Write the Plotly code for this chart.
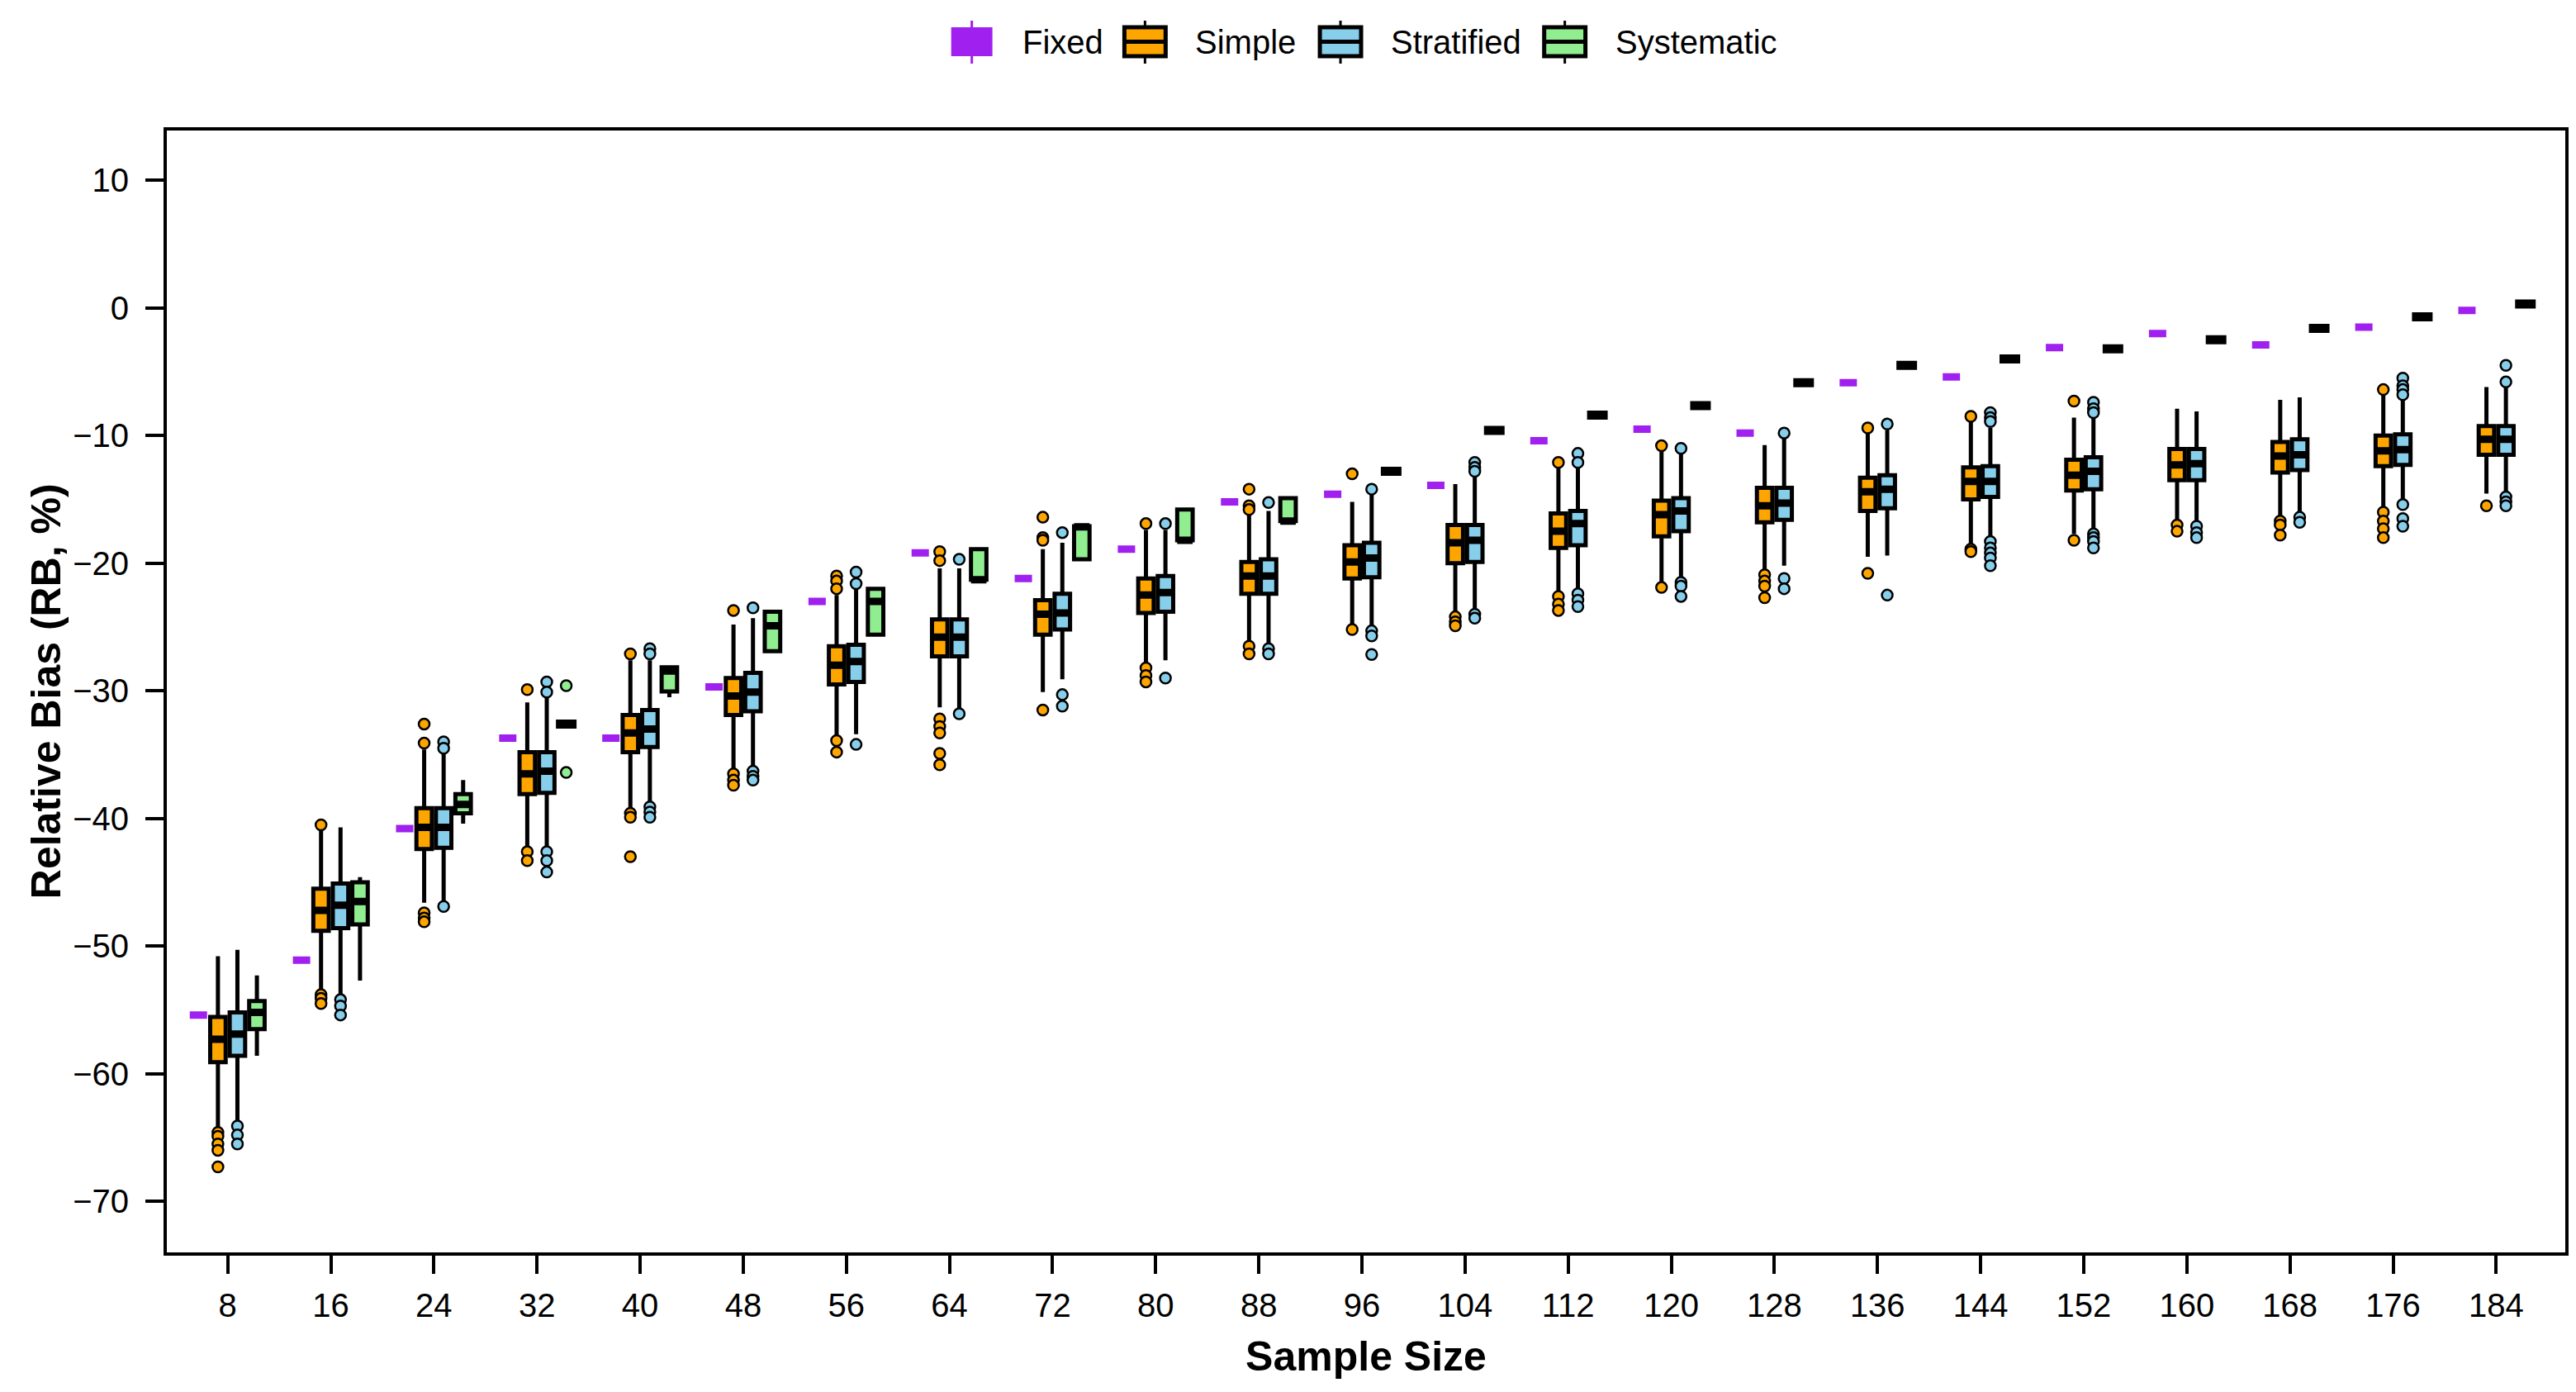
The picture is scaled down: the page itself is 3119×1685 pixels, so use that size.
"""Relative bias (RB, %) by sample size for four sampling designs.

Boxes are drawn from precomputed quartiles / whisker ends read off the
published figure; outlying points go on top as plain markers.
"""

import plotly.graph_objects as go

sample_sizes = [8, 16, 24, 32, 40, 48, 56, 64, 72, 80, 88, 96,
                104, 112, 120, 128, 136, 144, 152, 160, 168, 176, 184]
size_labels = [str(s) for s in sample_sizes]

# Fixed design: one value per sample size
fixed_rb = [-55.4, -51.1, -40.8, -33.7, -33.7, -29.7, -23.0, -19.2, -21.2,
            -18.9, -15.2, -14.6, -13.9, -10.4, -9.5, -9.8, -5.85, -5.4,
            -3.1, -2.0, -2.9, -1.5, -0.2]

# Simple random sampling
simple_lower = [-64.3, -53.6, -46.6, -42.4, -39.2, -36.1, -33.7, -31.3, -30.1,
                -27.8, -26.3, -24.85, -23.9, -22.4, -21.6, -20.5, -19.5,
                -18.6, -17.7, -16.8, -16.4, -15.7, -14.55]
simple_q1 = [-59.1, -48.8, -42.4, -38.1, -34.8, -31.9, -29.5, -27.3, -25.6,
             -23.9, -22.4, -21.2, -20.0, -18.8, -17.9, -16.8, -15.9, -15.0,
             -14.3, -13.5, -12.9, -12.4, -11.5]
simple_median = [-57.3, -47.2, -40.7, -36.5, -33.3, -30.4, -28.0, -25.8, -24.0,
                 -22.5, -21.0, -19.9, -18.4, -17.5, -16.2, -15.5, -14.4,
                 -13.6, -13.1, -12.3, -11.6, -11.2, -10.3]
simple_q3 = [-55.55, -45.5, -39.2, -34.8, -31.9, -29.0, -26.5, -24.4, -22.9,
             -21.2, -19.9, -18.6, -17.0, -16.1, -15.1, -14.1, -13.3, -12.5,
             -11.9, -11.05, -10.5, -10.0, -9.25]
simple_upper = [-50.8, -40.9, -34.6, -30.9, -27.6, -24.8, -22.5, -20.4, -18.9,
                -17.4, -16.1, -15.2, -13.8, -12.4, -11.2, -10.75, -9.8, -8.9,
                -8.6, -7.9, -7.2, -6.8, -6.2]
simple_outliers = [
    [-64.6, -64.9, -65.5, -66.0, -67.3],
    [-40.5, -53.8, -54.1, -54.5],
    [-32.6, -34.1, -47.4, -47.8, -48.1],
    [-29.9, -42.6, -43.3],
    [-27.1, -39.6, -39.9, -43.0],
    [-23.7, -36.5, -37.0, -37.4],
    [-21.0, -21.4, -22.0, -33.9, -34.8],
    [-19.1, -19.8, -32.2, -32.8, -33.3, -34.9, -35.8],
    [-16.4, -18.0, -18.2, -31.5],
    [-16.9, -28.2, -28.8, -29.3],
    [-14.2, -15.5, -15.8, -26.5, -27.1],
    [-13.0, -25.2],
    [-24.2, -24.6, -24.9],
    [-12.1, -22.6, -23.2, -23.7],
    [-10.8, -21.9],
    [-20.9, -21.4, -21.8, -22.7],
    [-9.4, -20.8],
    [-8.5, -18.9, -19.1],
    [-7.3, -18.2],
    [-17.0, -17.5],
    [-16.7, -17.0, -17.8],
    [-6.4, -16.0, -16.7, -17.3, -18.0],
    [-15.5],
]

# Stratified sampling
strat_lower = [-63.7, -53.9, -46.6, -42.4, -38.7, -36.1, -33.4, -31.5, -29.1,
               -27.6, -26.5, -24.85, -23.8, -22.2, -21.1, -20.2, -19.4, -18.1,
               -17.5, -16.8, -16.1, -15.1, -14.55]
strat_q1 = [-58.6, -48.6, -42.3, -38.0, -34.4, -31.6, -29.3, -27.3, -25.2,
            -23.8, -22.4, -21.1, -19.9, -18.6, -17.5, -16.6, -15.7, -14.8,
            -14.2, -13.5, -12.7, -12.3, -11.5]
strat_median = [-56.9, -46.8, -40.7, -36.3, -33.0, -30.1, -27.7, -25.8, -23.9,
                -22.3, -21.0, -19.6, -18.2, -16.9, -15.9, -15.3, -14.2, -13.6,
                -12.8, -12.2, -11.5, -11.1, -10.3]
strat_q3 = [-55.2, -45.1, -39.2, -34.8, -31.5, -28.6, -26.4, -24.4, -22.4,
            -21.0, -19.7, -18.4, -17.0, -15.9, -14.9, -14.1, -13.1, -12.4,
            -11.7, -11.05, -10.3, -9.9, -9.25]
strat_upper = [-50.3, -40.7, -34.8, -30.5, -27.6, -24.3, -22.0, -20.4, -18.4,
               -17.4, -15.9, -14.6, -13.0, -12.4, -11.3, -10.2, -9.6, -9.4,
               -8.5, -8.1, -7.0, -7.1, -6.1]
strat_outliers = [
    [-64.1, -64.8, -65.5],
    [-54.2, -54.7, -55.4],
    [-34.0, -34.5, -46.9],
    [-29.3, -30.1, -42.6, -43.3, -44.2],
    [-26.7, -27.1, -39.1, -39.5, -39.9],
    [-23.5, -36.3, -36.7, -37.0],
    [-20.7, -21.6, -34.2],
    [-19.7, -31.8],
    [-17.6, -30.3, -31.2],
    [-16.9, -29.0],
    [-15.25, -26.7, -27.1],
    [-14.2, -25.3, -25.7, -27.15],
    [-12.1, -12.5, -12.8, -24.0, -24.3],
    [-11.4, -12.1, -22.4, -22.9, -23.4],
    [-11.0, -21.5, -21.8, -22.6],
    [-9.8, -21.2, -22.0],
    [-9.1, -22.5],
    [-8.2, -8.6, -8.9, -18.3, -18.8, -19.2, -19.6, -20.2],
    [-7.4, -7.9, -8.2, -17.7, -18.0, -18.3, -18.8],
    [-17.1, -17.6, -18.0],
    [-16.4, -16.8],
    [-5.5, -6.1, -6.4, -6.8, -15.4, -16.5, -17.1],
    [-4.5, -5.8, -14.8, -15.2, -15.5],
]

# Systematic sampling (collapses to a single value from n = 96 on)
sys_lower = [-58.6, -52.7, -40.4, -32.6, -30.5, -26.9, -25.6, -21.3, -19.7,
             -18.2, -16.7, -12.8, -9.6, -8.4, -7.65, -5.85, -4.5, -4.0,
             -3.2, -2.5, -1.6, -0.7, 0.3]
sys_q1 = [-56.5, -48.3, -39.6, -32.6, -30.05, -26.9, -25.6, -21.3, -19.7,
          -18.2, -16.7, -12.8, -9.6, -8.4, -7.65, -5.85, -4.5, -4.0,
          -3.2, -2.5, -1.6, -0.7, 0.3]
sys_median = [-55.2, -46.5, -38.9, -32.6, -28.45, -24.9, -23.0, -21.3, -17.15,
              -18.2, -16.7, -12.8, -9.6, -8.4, -7.65, -5.85, -4.5, -4.0,
              -3.2, -2.5, -1.6, -0.7, 0.3]
sys_q3 = [-54.3, -45.0, -38.1, -32.6, -28.15, -23.8, -22.0, -18.9, -17.1,
          -15.8, -14.9, -12.8, -9.6, -8.4, -7.65, -5.85, -4.5, -4.0,
          -3.2, -2.5, -1.6, -0.7, 0.3]
sys_upper = [-52.3, -44.6, -37.0, -32.6, -28.15, -23.8, -22.0, -18.9, -17.1,
             -15.8, -14.9, -12.8, -9.6, -8.4, -7.65, -5.85, -4.5, -4.0,
             -3.2, -2.5, -1.6, -0.7, 0.3]
sys_outliers = [[] for _ in sample_sizes]
sys_outliers[3] = [-29.6, -36.4]

FONT = "Liberation Sans, Arial, sans-serif"
DESIGNS = ["Fixed", "Simple", "Stratified", "Systematic"]
COLORS = {
    "Fixed": "#A020F0",
    "Simple": "#FFA500",
    "Stratified": "#87CEEB",
    "Systematic": "#90EE90",
}

# figure geometry (px). The page body keeps its default 8px margin, so the
# figure is shrunk by that much to land the plot frame where the original is.
BODY = 8
W, H = 3119 - BODY, 1685 - BODY
M_L, M_R, M_T, M_B = 194, 9, 150, 169
PLOT_W, PLOT_H = W - M_L - M_R, H - M_T - M_B
PLOT_LEFT, PLOT_BOTTOM = BODY + M_L, BODY + H - M_B   # page px

SLOT = 0.189       # horizontal slot per design inside one sample size
BOX_W = 0.15
FIXED_W = 0.168
DASH_W = 0.2       # systematic boxes that collapse to one value
LINE_W = 5
MEDIAN_W = 9

cat_pos = list(range(len(sample_sizes)))


def _slot_x(k):
    off = (k - 1.5) * SLOT
    return [p + off for p in cat_pos]


def _box(name, x, lower, q1, med, q3, upper, line_color="black",
         line_width=LINE_W, width=BOX_W):
    return go.Box(
        name=name,
        x=x,
        lowerfence=lower, q1=q1, median=med, q3=q3, upperfence=upper,
        boxpoints=False,
        whiskerwidth=0,
        width=width,
        fillcolor=COLORS[name],
        line=dict(color=line_color, width=line_width),
        showlegend=False,
        hoverinfo="skip",
    )


def _outliers(name, k, pts):
    xs, ys = [], []
    for x, vals in zip(_slot_x(k), pts):
        for v in vals:
            xs.append(x)
            ys.append(v)
    return go.Scatter(
        x=xs, y=ys, mode="markers", name=name, showlegend=False,
        marker=dict(symbol="circle", size=13, color=COLORS[name],
                    line=dict(color="black", width=2.5)),
        hoverinfo="skip",
    )


traces = [
    _box("Fixed", _slot_x(0), fixed_rb, fixed_rb, fixed_rb, fixed_rb, fixed_rb,
         line_color=COLORS["Fixed"], line_width=MEDIAN_W, width=FIXED_W),
    _box("Simple", _slot_x(1), simple_lower, simple_q1, simple_median,
         simple_q3, simple_upper),
    _box("Stratified", _slot_x(2), strat_lower, strat_q1, strat_median,
         strat_q3, strat_upper),
    _box("Systematic", _slot_x(3), sys_lower, sys_q1, sys_median, sys_q3,
         sys_upper),
]
# thick median bars drawn on top, as in the R boxplot
for name, k, med in (("Simple", 1, simple_median),
                     ("Stratified", 2, strat_median)):
    traces.append(_box(name, _slot_x(k), med, med, med, med, med,
                       line_width=MEDIAN_W))
sys_x = _slot_x(3)
spread = [i for i in cat_pos if sys_q3[i] > sys_q1[i]]
flat = [i for i in cat_pos if sys_q3[i] <= sys_q1[i]]
for idx, width, lw in ((spread, BOX_W, MEDIAN_W), (flat, DASH_W, 11)):
    med = [sys_median[i] for i in idx]
    traces.append(_box("Systematic", [sys_x[i] for i in idx],
                       med, med, med, med, med, line_width=lw, width=width))
traces += [
    _outliers("Simple", 1, simple_outliers),
    _outliers("Stratified", 2, strat_outliers),
    _outliers("Systematic", 3, sys_outliers),
]

fig = go.Figure(data=traces)


# ---- legend drawn by hand so the keys match the big R boxplot keys ----
def px_x(px):
    return (px - PLOT_LEFT) / PLOT_W


def px_y(py):
    return (PLOT_BOTTOM - py) / PLOT_H


LEG_ICON_LEFT = [1153, 1363, 1600, 1872]
LEG_ICON_W = 50
LEG_BOX_TOP, LEG_BOX_BOT = 33, 68
LEG_WHISK_TOP, LEG_WHISK_BOT = 25, 77
LEG_MID = 50.5
LEG_TEXT_GAP = 84

shapes = []
annotations = []
for name, left in zip(DESIGNS, LEG_ICON_LEFT):
    fixed = name == "Fixed"
    edge = COLORS[name] if fixed else "black"
    cx = left + LEG_ICON_W / 2
    for y0, y1 in ((LEG_WHISK_TOP, LEG_BOX_TOP), (LEG_BOX_BOT, LEG_WHISK_BOT)):
        shapes.append(dict(type="line", xref="paper", yref="paper",
                           x0=px_x(cx), x1=px_x(cx), y0=px_y(y0), y1=px_y(y1),
                           line=dict(color=edge, width=3)))
    shapes.append(dict(type="rect", xref="paper", yref="paper",
                       x0=px_x(left), x1=px_x(left + LEG_ICON_W),
                       y0=px_y(LEG_BOX_BOT), y1=px_y(LEG_BOX_TOP),
                       fillcolor=COLORS[name],
                       line=dict(color=edge, width=0 if fixed else 5)))
    if not fixed:
        shapes.append(dict(type="line", xref="paper", yref="paper",
                           x0=px_x(left), x1=px_x(left + LEG_ICON_W),
                           y0=px_y(LEG_MID), y1=px_y(LEG_MID),
                           line=dict(color="black", width=5)))
    annotations.append(dict(text=name, xref="paper", yref="paper",
                            x=px_x(left + LEG_TEXT_GAP), y=px_y(LEG_MID),
                            xanchor="left", yanchor="middle", showarrow=False,
                            font=dict(family=FONT, size=40, color="black")))

# y-axis title sits closer to the tick labels than plotly's standoff allows
annotations.append(dict(text="<b>Relative Bias (RB, %)</b>", xref="paper",
                        yref="paper", x=px_x(56), y=0.5, textangle=-90,
                        xanchor="center", yanchor="middle", showarrow=False,
                        font=dict(family=FONT, size=50, color="black")))

fig.update_layout(
    width=W, height=H,
    paper_bgcolor="white", plot_bgcolor="white",
    font=dict(family=FONT, size=40, color="black"),
    boxmode="overlay",
    margin=dict(l=M_L, r=M_R, t=M_T, b=M_B),
    showlegend=False,
    shapes=shapes,
    annotations=annotations,
    xaxis=dict(
        range=[-0.59, 22.67],
        tickvals=cat_pos, ticktext=size_labels,
        title=dict(text="<b>Sample Size</b>", font=dict(size=50), standoff=24),
        showline=True, linecolor="black", linewidth=4, mirror=True,
        ticks="outside", ticklen=22, tickwidth=4, tickcolor="black",
        ticklabelstandoff=4,
        showgrid=False, zeroline=False,
    ),
    yaxis=dict(
        range=[-74.0, 13.9],
        tickvals=[-70, -60, -50, -40, -30, -20, -10, 0, 10],
        showline=True, linecolor="black", linewidth=4, mirror=True,
        ticks="outside", ticklen=22, tickwidth=4, tickcolor="black",
        ticklabelstandoff=12,
        showgrid=False, zeroline=False,
    ),
)

fig.write_html("out.html")
